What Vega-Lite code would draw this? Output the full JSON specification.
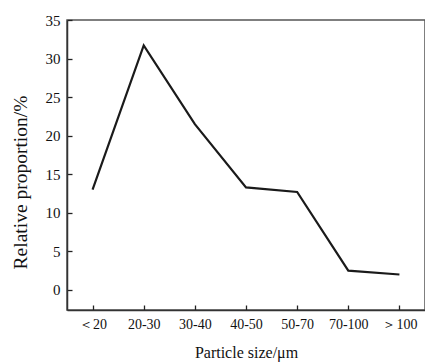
{
  "$schema": "https://vega.github.io/schema/vega-lite/v6.json",
  "autosize": "none",
  "padding": {"left": 67, "top": 20, "right": 0, "bottom": 53},
  "width": 358,
  "height": 290,
  "data": {"values": [
    {"size": "＜20", "proportion": 13.0},
    {"size": "20-30", "proportion": 31.7},
    {"size": "30-40", "proportion": 21.5},
    {"size": "40-50", "proportion": 13.3},
    {"size": "50-70", "proportion": 12.7},
    {"size": "70-100", "proportion": 2.5},
    {"size": "＞100", "proportion": 2.0}
  ]},
  "mark": {"type": "line", "color": "#1a1a1a", "strokeWidth": 2.2, "strokeJoin": "miter"},
  "encoding": {
    "x": {
      "field": "size", "type": "ordinal", "sort": null,
      "scale": {"type": "point", "padding": 0.5},
      "axis": {"title": "Particle size/μm", "labelAngle": 0, "tickSize": -5, "labelPadding": 12, "titlePadding": 13,
        "labelFont": "Liberation Serif", "labelFontSize": 14, "titleFont": "Liberation Serif", "titleFontSize": 16}
    },
    "y": {
      "field": "proportion", "type": "quantitative",
      "scale": {"domain": [-2.6, 35], "nice": false, "zero": false},
      "axis": {"title": "Relative proportion/%", "values": [0, 5, 10, 15, 20, 25, 30, 35], "tickSize": -5, "labelPadding": 12,
        "labelFont": "Liberation Serif", "labelFontSize": 15, "titleFont": "Liberation Serif", "titleFontSize": 19.5,
        "titleX": -47, "titleY": 162, "titleBaseline": "middle", "titleAlign": "center", "titleAngle": 270}
    }
  },
  "config": {
    "font": "Liberation Serif",
    "view": {"stroke": "#555", "strokeWidth": 1.5},
    "axis": {
      "grid": false,
      "domainColor": "#333",
      "domainWidth": 1.5,
      "tickColor": "#222",
      "tickWidth": 1.3,
      "labelColor": "#111",
      "titleFontWeight": "normal",
      "titleColor": "#111"
    }
  }
}
